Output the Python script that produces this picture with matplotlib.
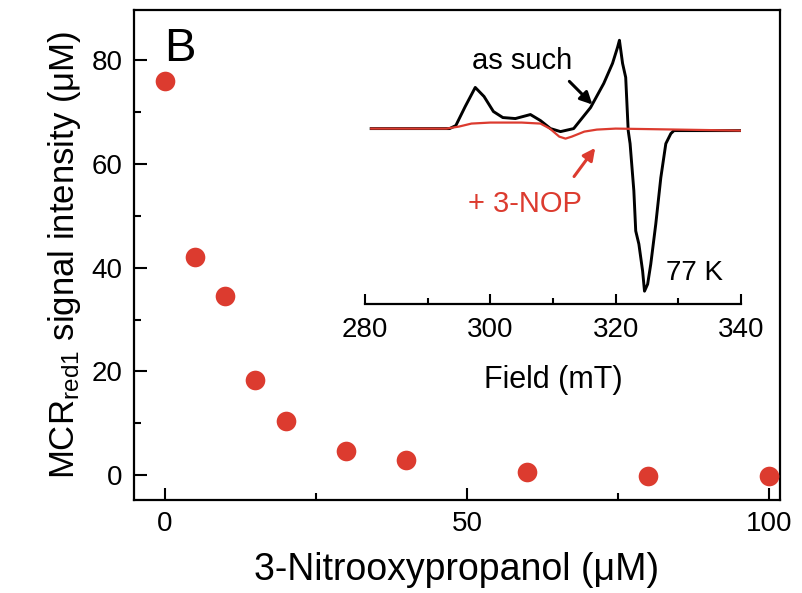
import matplotlib
matplotlib.use("Agg")
import matplotlib.pyplot as plt
from matplotlib.ticker import MultipleLocator

plt.rcParams['font.family'] = ['Liberation Sans', 'DejaVu Sans']
plt.rcParams['mathtext.fontset'] = 'custom'
plt.rcParams['mathtext.rm'] = 'Liberation Sans'
plt.rcParams['mathtext.it'] = 'Liberation Sans'

# titration data
nop_conc = [0, 5, 10, 15, 20, 30, 40, 60, 80, 100]
signal = [76, 42, 34.5, 18.3, 10.5, 4.7, 2.9, 0.6, -0.2, -0.2]

# EPR spectra (inset)
field_such = [281, 293.5, 294.5, 296, 297.6, 299, 300.5, 302, 304, 306.4, 308, 309.6,
              311.2, 313.3, 316, 318.1, 319.5, 320.3, 320.6, 321.1, 321.6, 322.0,
              322.3, 322.9, 323.2, 323.7, 324.3, 324.6, 325.1, 325.6, 326.4, 327.2,
              328.0, 328.8, 329.3, 340]
epr_such = [0, 0, 3, 22, 41, 32, 17, 11, 10, 14, 8, 0,
            -3, 0, 21, 45, 65, 81, 88, 65, 51, -2,
            -15, -62, -102, -115, -142, -162, -155, -135, -95, -49,
            -15, -5, -2, -2]
field_nop = [281, 293, 295, 297, 300, 305, 308, 309.5, 311, 312, 313, 315, 317, 320, 330, 340]
epr_nop = [0, 0, 2, 5, 6, 6, 5, 0, -8, -10, -8, -3, -1, 0, -1, -2]

red = '#dc3b2f'

fig = plt.figure(figsize=(8.02, 5.93), dpi=100)
ax = fig.add_axes([0.167, 0.157, 0.8055, 0.826])
ax.scatter(nop_conc, signal, s=200, color=red, zorder=3, linewidths=0)
ax.set_xlim(-5.1, 101.8)
ax.set_ylim(-4.8, 89.7)
ax.xaxis.set_major_locator(MultipleLocator(50))
ax.xaxis.set_minor_locator(MultipleLocator(25))
ax.yaxis.set_major_locator(MultipleLocator(20))
ax.yaxis.set_minor_locator(MultipleLocator(10))
ax.tick_params(which='both', direction='in', top=False, right=False, width=1.5,
               labelsize=20, pad=8)
ax.tick_params(which='major', length=9)
ax.tick_params(which='minor', length=5)
for sp in ax.spines.values():
    sp.set_linewidth(1.6)
ax.set_xlabel('3-Nitrooxypropanol (μM)', fontsize=27, labelpad=11)
ax.set_ylabel(r'MCR$_{\mathregular{red1}}$ signal intensity (μM)', fontsize=25, labelpad=6)
ax.text(0.046, 0.965, 'B', transform=ax.transAxes, fontsize=34, va='top', ha='left')

# inset
ins = fig.add_axes([0.455, 0.487, 0.469, 0.462])
ins.plot(field_such, epr_such, color='black', lw=2.1)
ins.plot(field_nop, epr_nop, color=red, lw=1.6)
ins.set_xlim(280, 340)
ins.set_ylim(-175, 98)
ins.patch.set_alpha(0)
for s in ['left', 'right', 'top']:
    ins.spines[s].set_visible(False)
ins.spines['bottom'].set_linewidth(1.6)
ins.set_yticks([])
ins.xaxis.set_major_locator(MultipleLocator(20))
ins.xaxis.set_minor_locator(MultipleLocator(10))
ins.tick_params(which='both', direction='in', width=1.5, labelsize=20, pad=9)
ins.tick_params(which='major', length=7)
ins.tick_params(which='minor', length=4)
ins.set_xlabel('Field (mT)', fontsize=22, labelpad=16)

ins.text(305.0, 67, 'as such', fontsize=21, ha='center', va='center')
ins.text(305.6, -75, '+ 3-NOP', fontsize=21, ha='center', va='center', color=red)
ins.text(332.5, -144, '77 K', fontsize=20, ha='center', va='center')
ins.annotate('', xy=(316.6, 22), xytext=(312.3, 49),
             arrowprops=dict(arrowstyle='-|>', color='black', lw=2.2, mutation_scale=18))
ins.annotate('', xy=(317.0, -17), xytext=(313.1, -50),
             arrowprops=dict(arrowstyle='-|>', color=red, lw=2.2, mutation_scale=18))

fig.savefig('out.png', dpi=100)
